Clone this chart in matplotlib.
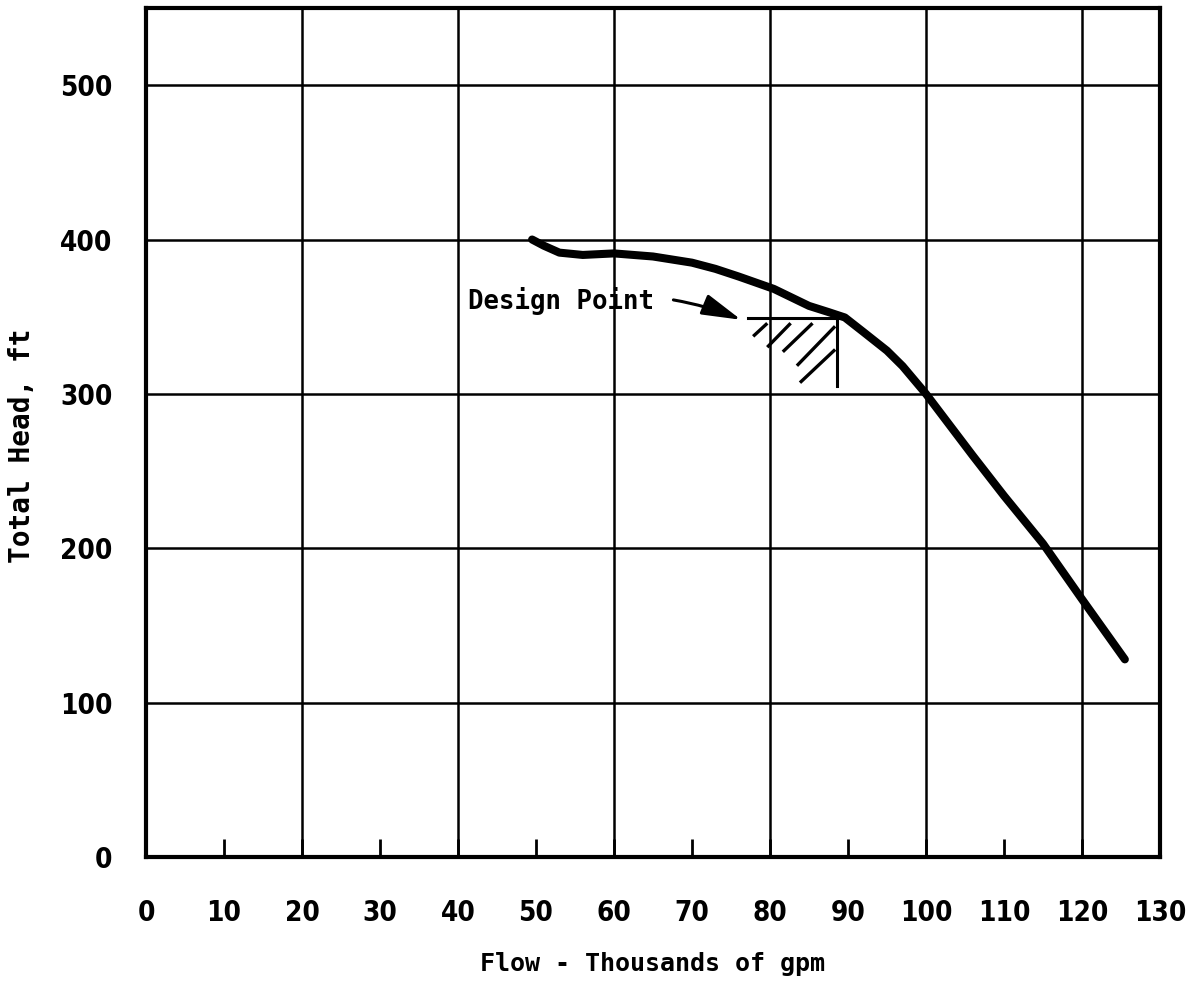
import matplotlib
matplotlib.use("Agg")
import matplotlib.pyplot as plt

# pump characteristic, head vs flow
flow = [49.5, 51, 53, 56, 60, 65, 70, 73, 76, 80.5, 85, 87.5, 89.6, 92, 95, 97, 100,
        103, 106, 110, 115, 120, 125.5]
head = [400, 396, 391.5, 390, 391, 389, 385, 381, 376, 368, 357, 353, 349.5, 340, 328,
        318, 300, 280, 260, 234, 203, 167, 128]

# design point marker: legs and hatch strokes (flow, head)
design_flow = 88.6
design_head = 349
design_h_leg = [77.2, 89.3]
design_v_leg = [349, 305]
hatch_x0 = [78.0, 79.8, 81.8, 83.6, 84.0]
hatch_y0 = [338, 331, 328, 319, 308]
hatch_x1 = [79.5, 82.5, 85.3, 88.2, 88.2]
hatch_y1 = [345, 345, 345, 343, 328]

x_major = [0, 20, 40, 60, 80, 100, 120]
x_labels = list(range(0, 131, 10))
y_ticks = [0, 100, 200, 300, 400, 500]

tick_font = ["DejaVu Sans"]
label_font = ["DejaVu Sans Mono", "DejaVu Sans"]

fig = plt.figure(figsize=(11.88, 9.83), dpi=100)
ax = fig.add_axes([0.1229, 0.1282, 0.8535, 0.8637])
ax.set_xlim(0, 130)
ax.set_ylim(0, 550)

# grid drawn as plain lines so the short x ticks stay short
for x in x_major[1:]:
    ax.axvline(x, color="black", lw=1.8, zorder=1)
for y in y_ticks[1:]:
    ax.axhline(y, color="black", lw=1.8, zorder=1)

ax.plot(flow, head, color="black", lw=5.8, solid_capstyle="round",
        solid_joinstyle="round", zorder=3)

ax.plot(design_h_leg, [design_head, design_head], color="black", lw=2.2, zorder=3)
ax.plot([design_flow, design_flow], design_v_leg, color="black", lw=2.2, zorder=3)
for x0, y0, x1, y1 in zip(hatch_x0, hatch_y0, hatch_x1, hatch_y1):
    ax.plot([x0, x1], [y0, y1], color="black", lw=2.4, zorder=3)

ax.annotate("Design Point", xy=(76.3, 348), xytext=(41.3, 360),
            fontsize=18.5, fontweight="bold", family=label_font, va="center",
            arrowprops=dict(arrowstyle="-|>,head_length=1.3,head_width=0.35",
                            color="black", lw=2.2, shrinkA=12, shrinkB=0,
                            connectionstyle="arc3,rad=-0.15"))

for side in ax.spines.values():
    side.set_linewidth(3)

# every 10: short inward tick, label below
ax.set_xticks(x_labels)
ax.set_xticklabels([str(v) for v in x_labels])
ax.set_yticks(y_ticks)
ax.tick_params(axis="x", direction="in", length=13, width=2, pad=30, labelsize=20)
ax.tick_params(axis="y", length=0, pad=24, labelsize=20)
for lbl in ax.get_xticklabels() + ax.get_yticklabels():
    lbl.set_family(tick_font)
    lbl.set_fontweight("bold")
    lbl.set_fontstretch("condensed")

ax.set_xlabel("Flow - Thousands of gpm", fontsize=18, fontweight="bold",
              family=label_font, labelpad=18)
ax.set_ylabel("Total Head, ft", fontsize=20, fontweight="bold",
              family=label_font)
ax.yaxis.set_label_coords(-0.108, 0.484)

fig.savefig("out.png", dpi=100, facecolor="white")
